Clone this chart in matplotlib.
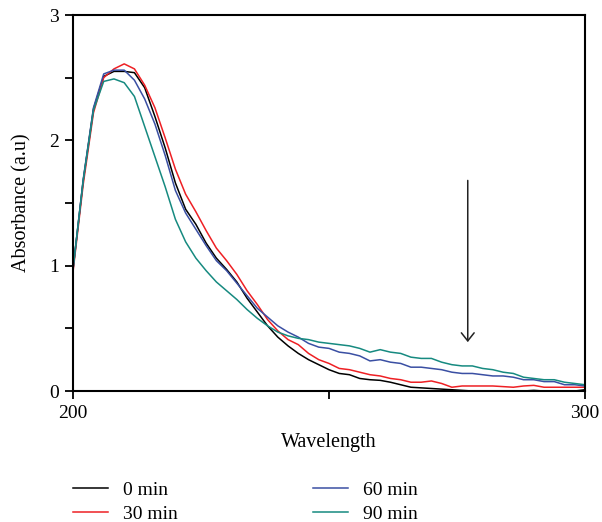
import numpy as np
import matplotlib
matplotlib.use("Agg")
import matplotlib.pyplot as plt

plt.rcParams['font.family'] = ['Liberation Serif', 'DejaVu Serif']

# wavelength grid, 2 nm steps
wavelength = np.arange(200, 301, 2)

abs_0min = [0.97, 1.68, 2.25, 2.51, 2.55, 2.55, 2.54, 2.42, 2.19, 1.94,
            1.66, 1.45, 1.33, 1.18, 1.06, 0.97, 0.87, 0.74, 0.63, 0.52,
            0.43, 0.36, 0.30, 0.25, 0.21, 0.17, 0.14, 0.13, 0.10, 0.09,
            0.085, 0.07, 0.05, 0.03, 0.025, 0.02, 0.015, 0.01, 0.005, 0.0,
            0.0, -0.01, 0.0, -0.005, 0.0, 0.005, 0.0, 0.0, -0.01, 0.0, 0.01]
abs_30min = [0.95, 1.65, 2.22, 2.50, 2.57, 2.61, 2.57, 2.44, 2.26, 2.02,
             1.77, 1.57, 1.43, 1.28, 1.14, 1.04, 0.93, 0.80, 0.69, 0.57,
             0.48, 0.41, 0.37, 0.30, 0.25, 0.22, 0.18, 0.17, 0.15, 0.13,
             0.12, 0.10, 0.09, 0.07, 0.07, 0.08, 0.06, 0.03, 0.04, 0.04,
             0.04, 0.04, 0.035, 0.03, 0.04, 0.045, 0.03, 0.03, 0.03, 0.03, 0.03]
abs_60min = [0.97, 1.69, 2.26, 2.53, 2.56, 2.56, 2.48, 2.33, 2.13, 1.88,
             1.60, 1.42, 1.29, 1.16, 1.04, 0.96, 0.86, 0.76, 0.66, 0.59,
             0.52, 0.47, 0.43, 0.38, 0.35, 0.34, 0.31, 0.30, 0.28, 0.24,
             0.25, 0.23, 0.22, 0.19, 0.19, 0.18, 0.17, 0.15, 0.14, 0.14,
             0.13, 0.12, 0.12, 0.11, 0.09, 0.09, 0.075, 0.075, 0.05, 0.05, 0.04]
abs_90min = [0.97, 1.68, 2.24, 2.47, 2.49, 2.46, 2.35, 2.11, 1.87, 1.63,
             1.37, 1.19, 1.06, 0.96, 0.87, 0.80, 0.73, 0.65, 0.58, 0.52,
             0.47, 0.44, 0.42, 0.41, 0.39, 0.38, 0.37, 0.36, 0.34, 0.31,
             0.33, 0.31, 0.30, 0.27, 0.26, 0.26, 0.23, 0.21, 0.20, 0.20,
             0.18, 0.17, 0.15, 0.14, 0.11, 0.10, 0.09, 0.09, 0.07, 0.06, 0.05]

labels = ['0 min', '30 min', '60 min', '90 min']
colors = ['#000000', '#ee2024', '#3a4fa3', '#168a80']

fig = plt.figure(figsize=(6.02, 5.22), dpi=100)
ax = fig.add_axes([73 / 602, 1 - 391 / 522, 512 / 602, 376 / 522])

series = [abs_0min, abs_30min, abs_60min, abs_90min]
lines = []
for y, c, lab in zip(series, colors, labels):
    ln, = ax.plot(wavelength, y, color=c, lw=1.1, label=lab)
    lines.append(ln)

# arrow showing the decrease
ax.annotate('', xy=(277.1, 0.39), xytext=(277.1, 1.68),
            arrowprops=dict(arrowstyle='->,head_length=0.29,head_width=0.23',
                            color='#222222', lw=1.1, mutation_scale=20,
                            shrinkA=0, shrinkB=0))

ax.set_xlim(200, 300)
ax.set_ylim(0, 3)
ax.set_xticks([200, 250, 300])
ax.set_xticklabels(['200', '', '300'])
ax.set_yticks([0, 1, 2, 3])
ax.set_yticks([0.5, 1.5, 2.5], minor=True)
ax.tick_params(which='both', direction='out', length=6, width=1.3,
               labelsize=14, pad=4)
for s in ax.spines.values():
    s.set_linewidth(1.5)

ax.set_xlabel('Wavelength', fontsize=14.5, labelpad=8)
ax.set_ylabel('Absorbance (a.u)', fontsize=14.5, labelpad=13)

# legend below the plot, two columns
fig.legend(lines, labels, loc='upper left',
           bbox_to_anchor=(73 / 602, 1 - 481 / 522), ncol=2, frameon=False,
           fontsize=14, handlelength=1.8, handletextpad=0.75,
           labelspacing=0.33, columnspacing=7.0, borderpad=0,
           borderaxespad=0)

fig.savefig('out.png', dpi=100)
